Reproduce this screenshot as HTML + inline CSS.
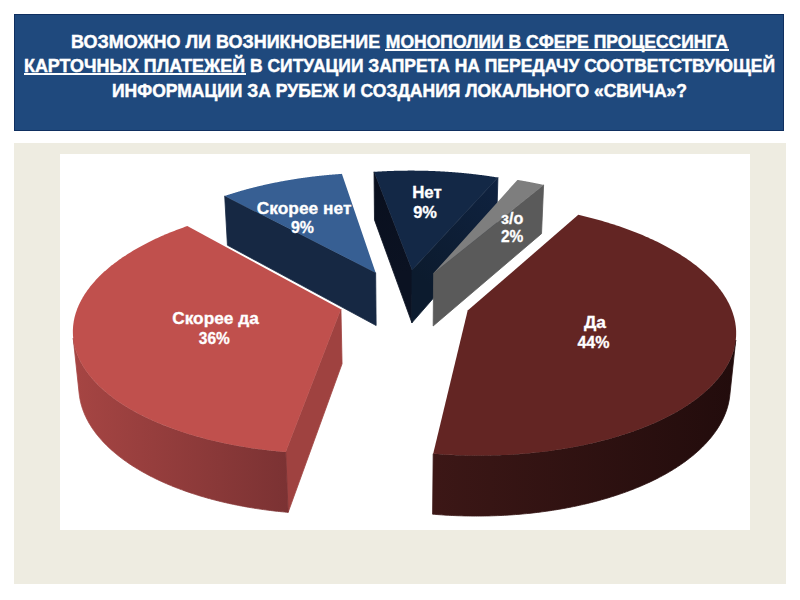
<!DOCTYPE html>
<html><head><meta charset="utf-8"><style>
html,body{margin:0;padding:0;background:#fff;}
body{width:800px;height:600px;position:relative;overflow:hidden;font-family:"Liberation Sans",sans-serif;}
.hdr{position:absolute;left:14px;top:13.5px;width:770px;height:117px;background:#1f497d;box-shadow:inset 0 0 0 1px #0f2f60;}
.t{position:absolute;left:0;width:800px;text-align:center;color:#fff;font-weight:bold;font-size:17.6px;line-height:20px;white-space:nowrap;-webkit-text-stroke:0.45px #fff;}
.t u{text-decoration:none;}
.ul{position:absolute;height:2px;background:#fff;}
.frame{position:absolute;left:14px;top:143px;width:772px;height:441px;background:#eeece1;}
.plot{position:absolute;left:60px;top:154px;width:690px;height:376px;background:#fff;}
svg{position:absolute;left:0;top:0;}
svg text.h{font-size:17.6px;text-anchor:start;stroke:#fff;stroke-width:0.45px;}
svg text{font-family:"Liberation Sans",sans-serif;font-weight:bold;font-size:16.5px;fill:#fff;text-anchor:start;stroke:#fff;stroke-width:0.3px;}
</style></head><body>
<div class="hdr"></div>
<div class="ul" style="left:384.5px;top:49.3px;width:344px"></div>
<div class="ul" style="left:24px;top:73.4px;width:221.5px"></div>
<div class="frame"></div>
<div class="plot"></div>
<svg width="800" height="600" viewBox="0 0 800 600">
<linearGradient id="r3a" gradientUnits="userSpaceOnUse" x1="374.0" y1="171.8" x2="412.0" y2="270.1"><stop offset="0" stop-color="#090f1e"/><stop offset="1" stop-color="#0b1222"/></linearGradient>
<polygon points="412.03,270.08 374.04,171.84 374.49,219.89 411.91,322.82" fill="url(#r3a)" stroke="url(#r3a)" stroke-width="0.8" stroke-linejoin="round"/>
<linearGradient id="r3b" gradientUnits="userSpaceOnUse" x1="497.9" y1="177.5" x2="412.0" y2="270.1"><stop offset="0" stop-color="#0f2240"/><stop offset="1" stop-color="#0c1b2e"/></linearGradient>
<polygon points="412.03,270.08 497.93,177.51 496.54,225.84 411.91,322.82" fill="url(#r3b)" stroke="url(#r3b)" stroke-width="0.8" stroke-linejoin="round"/>
<polygon points="412.03,270.08 374.04,171.84 374.66,171.80 375.29,171.76 375.91,171.72 376.54,171.68 377.16,171.64 377.79,171.61 378.41,171.57 379.04,171.53 379.67,171.50 380.29,171.46 380.92,171.43 381.54,171.39 382.17,171.36 382.80,171.33 383.42,171.30 384.05,171.27 384.68,171.24 385.31,171.21 385.93,171.18 386.56,171.15 387.19,171.12 387.82,171.10 388.44,171.07 389.07,171.05 389.70,171.02 390.33,171.00 390.96,170.98 391.59,170.95 392.21,170.93 392.84,170.91 393.47,170.89 394.10,170.87 394.73,170.85 395.36,170.83 395.99,170.82 396.62,170.80 397.25,170.78 397.88,170.77 398.51,170.75 399.14,170.74 399.77,170.73 400.40,170.72 401.03,170.70 401.66,170.69 402.29,170.68 402.92,170.67 403.55,170.66 404.18,170.66 404.81,170.65 405.44,170.64 406.07,170.64 406.70,170.63 407.33,170.63 407.96,170.62 408.59,170.62 409.22,170.62 409.85,170.61 410.48,170.61 411.11,170.61 411.74,170.61 412.37,170.61 413.00,170.62 413.63,170.62 414.26,170.62 414.89,170.63 415.52,170.63 416.15,170.64 416.78,170.64 417.41,170.65 418.04,170.66 418.67,170.66 419.30,170.67 419.93,170.68 420.56,170.69 421.19,170.70 421.82,170.71 422.45,170.73 423.08,170.74 423.71,170.75 424.34,170.77 424.97,170.78 425.60,170.80 426.23,170.82 426.86,170.83 427.49,170.85 428.12,170.87 428.75,170.89 429.38,170.91 430.01,170.93 430.64,170.95 431.27,170.97 431.89,171.00 432.52,171.02 433.15,171.04 433.78,171.07 434.41,171.10 435.04,171.12 435.67,171.15 436.29,171.18 436.92,171.21 437.55,171.24 438.18,171.27 438.80,171.30 439.43,171.33 440.06,171.36 440.69,171.39 441.31,171.43 441.94,171.46 442.57,171.49 443.19,171.53 443.82,171.57 444.45,171.60 445.07,171.64 445.70,171.68 446.32,171.72 446.95,171.76 447.57,171.80 448.20,171.84 448.82,171.88 449.45,171.93 450.07,171.97 450.70,172.01 451.32,172.06 451.95,172.10 452.57,172.15 453.19,172.20 453.82,172.24 454.44,172.29 455.06,172.34 455.69,172.39 456.31,172.44 456.93,172.49 457.55,172.54 458.17,172.60 458.80,172.65 459.42,172.70 460.04,172.76 460.66,172.81 461.28,172.87 461.90,172.93 462.52,172.98 463.14,173.04 463.76,173.10 464.38,173.16 465.00,173.22 465.62,173.28 466.23,173.34 466.85,173.41 467.47,173.47 468.09,173.53 468.71,173.60 469.32,173.66 469.94,173.73 470.56,173.80 471.17,173.86 471.79,173.93 472.40,174.00 473.02,174.07 473.63,174.14 474.25,174.21 474.86,174.28 475.48,174.35 476.09,174.43 476.70,174.50 477.31,174.57 477.93,174.65 478.54,174.72 479.15,174.80 479.76,174.88 480.37,174.96 480.98,175.03 481.59,175.11 482.20,175.19 482.81,175.27 483.42,175.35 484.03,175.44 484.64,175.52 485.25,175.60 485.86,175.69 486.46,175.77 487.07,175.86 487.68,175.94 488.28,176.03 488.89,176.12 489.49,176.21 490.10,176.29 490.70,176.38 491.31,176.47 491.91,176.57 492.52,176.66 493.12,176.75 493.72,176.84 494.32,176.94 494.92,177.03 495.53,177.13 496.13,177.22 496.73,177.32 497.33,177.41 497.93,177.51" fill="#132846"/>
<polygon points="375.65,272.69 224.69,195.98 227.43,245.22 376.14,325.54" fill="#162843" stroke="#162843" stroke-width="0.8" stroke-linejoin="round"/>
<polygon points="375.65,272.69 224.69,195.98 225.22,195.80 225.75,195.63 226.27,195.45 226.80,195.27 227.34,195.10 227.87,194.92 228.40,194.75 228.93,194.58 229.47,194.40 230.00,194.23 230.54,194.06 231.07,193.89 231.61,193.72 232.15,193.55 232.69,193.38 233.23,193.21 233.77,193.04 234.31,192.88 234.85,192.71 235.40,192.55 235.94,192.38 236.48,192.22 237.03,192.05 237.58,191.89 238.12,191.73 238.67,191.57 239.22,191.41 239.77,191.24 240.32,191.09 240.87,190.93 241.42,190.77 241.97,190.61 242.52,190.45 243.08,190.30 243.63,190.14 244.19,189.99 244.74,189.83 245.30,189.68 245.86,189.53 246.42,189.37 246.97,189.22 247.53,189.07 248.09,188.92 248.65,188.77 249.22,188.62 249.78,188.47 250.34,188.33 250.90,188.18 251.47,188.03 252.03,187.89 252.60,187.74 253.17,187.60 253.73,187.45 254.30,187.31 254.87,187.17 255.44,187.03 256.01,186.89 256.58,186.75 257.15,186.61 257.72,186.47 258.29,186.33 258.87,186.19 259.44,186.05 260.01,185.92 260.59,185.78 261.16,185.65 261.74,185.51 262.32,185.38 262.89,185.25 263.47,185.12 264.05,184.98 264.63,184.85 265.21,184.72 265.79,184.59 266.37,184.46 266.95,184.34 267.53,184.21 268.12,184.08 268.70,183.96 269.28,183.83 269.87,183.71 270.45,183.58 271.04,183.46 271.62,183.34 272.21,183.21 272.80,183.09 273.38,182.97 273.97,182.85 274.56,182.73 275.15,182.62 275.74,182.50 276.33,182.38 276.92,182.26 277.51,182.15 278.11,182.03 278.70,181.92 279.29,181.81 279.88,181.69 280.48,181.58 281.07,181.47 281.67,181.36 282.26,181.25 282.86,181.14 283.46,181.03 284.05,180.92 284.65,180.81 285.25,180.71 285.85,180.60 286.45,180.50 287.05,180.39 287.65,180.29 288.25,180.18 288.85,180.08 289.45,179.98 290.05,179.88 290.65,179.78 291.25,179.68 291.86,179.58 292.46,179.48 293.06,179.38 293.67,179.28 294.27,179.19 294.88,179.09 295.48,179.00 296.09,178.90 296.70,178.81 297.30,178.72 297.91,178.62 298.52,178.53 299.13,178.44 299.74,178.35 300.34,178.26 300.95,178.17 301.56,178.09 302.17,178.00 302.78,177.91 303.39,177.83 304.01,177.74 304.62,177.66 305.23,177.57 305.84,177.49 306.45,177.41 307.07,177.33 307.68,177.24 308.29,177.16 308.91,177.08 309.52,177.01 310.14,176.93 310.75,176.85 311.37,176.77 311.98,176.70 312.60,176.62 313.22,176.55 313.83,176.47 314.45,176.40 315.07,176.33 315.69,176.26 316.30,176.18 316.92,176.11 317.54,176.04 318.16,175.97 318.78,175.91 319.40,175.84 320.02,175.77 320.64,175.71 321.26,175.64 321.88,175.57 322.50,175.51 323.12,175.45 323.74,175.38 324.36,175.32 324.99,175.26 325.61,175.20 326.23,175.14 326.85,175.08 327.48,175.02 328.10,174.96 328.72,174.91 329.35,174.85 329.97,174.80 330.60,174.74 331.22,174.69 331.84,174.63 332.47,174.58 333.09,174.53 333.72,174.48 334.34,174.43 334.97,174.38 335.60,174.33 336.22,174.28 336.85,174.23 337.48,174.18 338.10,174.14 338.73,174.09 339.36,174.04 339.98,174.00 340.61,173.96 341.24,173.91 341.87,173.87" fill="#375f93"/>
<polygon points="433.65,273.09 543.62,184.94 541.53,233.63 433.16,325.97" fill="#5a5a5a" stroke="#5a5a5a" stroke-width="0.8" stroke-linejoin="round"/>
<polygon points="433.65,273.09 517.41,179.89 517.54,179.91 517.67,179.94 517.81,179.96 517.94,179.98 518.08,180.00 518.21,180.02 518.34,180.05 518.48,180.07 518.61,180.09 518.75,180.11 518.88,180.13 519.01,180.16 519.15,180.18 519.28,180.20 519.42,180.22 519.55,180.25 519.68,180.27 519.82,180.29 519.95,180.31 520.08,180.34 520.22,180.36 520.35,180.38 520.49,180.41 520.62,180.43 520.75,180.45 520.89,180.47 521.02,180.50 521.15,180.52 521.29,180.54 521.42,180.57 521.55,180.59 521.69,180.61 521.82,180.63 521.95,180.66 522.09,180.68 522.22,180.70 522.35,180.73 522.49,180.75 522.62,180.77 522.75,180.80 522.89,180.82 523.02,180.84 523.15,180.87 523.29,180.89 523.42,180.91 523.55,180.94 523.69,180.96 523.82,180.98 523.95,181.01 524.08,181.03 524.22,181.06 524.35,181.08 524.48,181.10 524.62,181.13 524.75,181.15 524.88,181.17 525.01,181.20 525.15,181.22 525.28,181.25 525.41,181.27 525.55,181.29 525.68,181.32 525.81,181.34 525.94,181.37 526.08,181.39 526.21,181.42 526.34,181.44 526.47,181.46 526.61,181.49 526.74,181.51 526.87,181.54 527.00,181.56 527.14,181.59 527.27,181.61 527.40,181.63 527.53,181.66 527.67,181.68 527.80,181.71 527.93,181.73 528.06,181.76 528.20,181.78 528.33,181.81 528.46,181.83 528.59,181.86 528.72,181.88 528.86,181.91 528.99,181.93 529.12,181.96 529.25,181.98 529.39,182.01 529.52,182.03 529.65,182.06 529.78,182.08 529.91,182.11 530.05,182.13 530.18,182.16 530.31,182.18 530.44,182.21 530.57,182.23 530.70,182.26 530.84,182.28 530.97,182.31 531.10,182.33 531.23,182.36 531.36,182.39 531.49,182.41 531.63,182.44 531.76,182.46 531.89,182.49 532.02,182.51 532.15,182.54 532.28,182.57 532.42,182.59 532.55,182.62 532.68,182.64 532.81,182.67 532.94,182.70 533.07,182.72 533.20,182.75 533.33,182.77 533.47,182.80 533.60,182.83 533.73,182.85 533.86,182.88 533.99,182.90 534.12,182.93 534.25,182.96 534.38,182.98 534.51,183.01 534.65,183.04 534.78,183.06 534.91,183.09 535.04,183.11 535.17,183.14 535.30,183.17 535.43,183.19 535.56,183.22 535.69,183.25 535.82,183.27 535.95,183.30 536.09,183.33 536.22,183.35 536.35,183.38 536.48,183.41 536.61,183.44 536.74,183.46 536.87,183.49 537.00,183.52 537.13,183.54 537.26,183.57 537.39,183.60 537.52,183.62 537.65,183.65 537.78,183.68 537.91,183.71 538.04,183.73 538.17,183.76 538.30,183.79 538.43,183.82 538.56,183.84 538.69,183.87 538.82,183.90 538.95,183.93 539.08,183.95 539.21,183.98 539.34,184.01 539.47,184.04 539.60,184.06 539.73,184.09 539.86,184.12 539.99,184.15 540.12,184.17 540.25,184.20 540.38,184.23 540.51,184.26 540.64,184.29 540.77,184.31 540.90,184.34 541.03,184.37 541.16,184.40 541.29,184.43 541.42,184.45 541.55,184.48 541.68,184.51 541.81,184.54 541.94,184.57 542.07,184.60 542.20,184.62 542.33,184.65 542.46,184.68 542.59,184.71 542.71,184.74 542.84,184.77 542.97,184.79 543.10,184.82 543.23,184.85 543.36,184.88 543.49,184.91 543.62,184.94" fill="#7e7e7e"/>
<polygon points="340.95,309.33 285.73,452.00 288.14,512.35 342.06,363.82" fill="#9f4240" stroke="#9f4240" stroke-width="0.8" stroke-linejoin="round"/>
<linearGradient id="g1" gradientUnits="userSpaceOnUse" x1="73.2" y1="0" x2="288.1" y2="0"><stop offset="0" stop-color="#a64543"/><stop offset="1" stop-color="#7b3233"/></linearGradient>
<polygon points="285.73,452.00 283.92,451.85 282.11,451.69 280.31,451.53 278.51,451.36 276.71,451.19 274.92,451.01 273.13,450.82 271.34,450.63 269.56,450.43 267.78,450.23 266.01,450.02 264.24,449.81 262.47,449.58 260.70,449.36 258.95,449.13 257.19,448.89 255.44,448.64 253.69,448.39 251.95,448.14 250.22,447.88 248.48,447.61 246.76,447.34 245.03,447.06 243.32,446.78 241.60,446.49 239.90,446.19 238.19,445.89 236.50,445.59 234.81,445.27 233.12,444.96 231.44,444.63 229.77,444.31 228.10,443.97 226.43,443.63 224.78,443.29 223.13,442.94 221.48,442.59 219.84,442.23 218.21,441.86 216.58,441.49 214.96,441.11 213.35,440.73 211.74,440.35 210.14,439.96 208.55,439.56 206.96,439.16 205.38,438.75 203.81,438.34 202.24,437.92 200.68,437.50 199.13,437.07 197.59,436.64 196.05,436.21 194.52,435.76 193.00,435.32 191.48,434.87 189.98,434.41 188.48,433.95 186.98,433.49 185.50,433.02 184.02,432.54 182.55,432.06 181.09,431.58 179.64,431.09 178.20,430.60 176.76,430.10 175.33,429.60 173.91,429.09 172.50,428.58 171.10,428.06 169.70,427.55 168.31,427.02 166.94,426.49 165.57,425.96 164.21,425.42 162.86,424.88 161.51,424.34 160.18,423.79 158.85,423.24 157.54,422.68 156.23,422.12 154.93,421.55 153.64,420.98 152.36,420.41 151.09,419.83 149.83,419.25 148.58,418.67 147.34,418.08 146.10,417.49 144.88,416.89 143.66,416.30 142.46,415.69 141.26,415.09 140.08,414.48 138.90,413.86 137.73,413.25 136.58,412.63 135.43,412.00 134.29,411.38 133.16,410.75 132.04,410.11 130.94,409.47 129.84,408.83 128.75,408.19 127.67,407.55 126.60,406.90 125.55,406.24 124.50,405.59 123.46,404.93 122.43,404.27 121.42,403.60 120.41,402.94 119.41,402.27 118.42,401.59 117.45,400.92 116.48,400.24 115.53,399.56 114.58,398.88 113.64,398.19 112.72,397.50 111.81,396.81 110.90,396.12 110.01,395.42 109.13,394.72 108.25,394.02 107.39,393.32 106.54,392.61 105.70,391.90 104.87,391.19 104.05,390.48 103.24,389.77 102.44,389.05 101.65,388.33 100.87,387.61 100.11,386.89 99.35,386.17 98.61,385.44 97.87,384.71 97.15,383.98 96.43,383.25 95.73,382.52 95.04,381.78 94.36,381.04 93.69,380.30 93.03,379.56 92.38,378.82 91.74,378.08 91.11,377.33 90.50,376.59 89.89,375.84 89.30,375.09 88.71,374.34 88.14,373.59 87.57,372.84 87.02,372.08 86.48,371.32 85.95,370.57 85.43,369.81 84.92,369.05 84.42,368.29 83.93,367.53 83.45,366.77 82.99,366.00 82.53,365.24 82.09,364.48 81.65,363.71 81.23,362.94 80.81,362.18 80.41,361.41 80.02,360.64 79.64,359.87 79.27,359.10 78.91,358.33 78.56,357.56 78.22,356.78 77.89,356.01 77.57,355.24 77.27,354.47 76.97,353.69 76.69,352.92 76.41,352.14 76.14,351.37 75.89,350.59 75.65,349.82 75.41,349.04 75.19,348.27 74.98,347.49 74.77,346.71 74.58,345.94 74.40,345.16 74.23,344.39 74.07,343.61 73.92,342.83 73.78,342.06 73.65,341.28 73.53,340.51 73.42,339.73 73.32,338.95 73.23,338.18 79.21,393.93 79.30,394.74 79.40,395.54 79.51,396.35 79.64,397.16 79.77,397.97 79.91,398.78 80.07,399.59 80.23,400.40 80.40,401.21 80.59,402.02 80.78,402.83 80.98,403.64 81.20,404.44 81.42,405.25 81.65,406.06 81.90,406.87 82.15,407.68 82.42,408.48 82.69,409.29 82.98,410.10 83.28,410.91 83.58,411.71 83.90,412.52 84.23,413.32 84.56,414.13 84.91,414.93 85.27,415.73 85.64,416.54 86.02,417.34 86.41,418.14 86.81,418.94 87.22,419.74 87.64,420.54 88.07,421.33 88.51,422.13 88.96,422.93 89.43,423.72 89.90,424.52 90.38,425.31 90.88,426.10 91.38,426.89 91.90,427.68 92.42,428.47 92.96,429.26 93.51,430.04 94.06,430.83 94.63,431.61 95.21,432.39 95.80,433.17 96.40,433.95 97.01,434.73 97.63,435.50 98.26,436.28 98.90,437.05 99.55,437.82 100.22,438.59 100.89,439.36 101.57,440.12 102.27,440.88 102.97,441.65 103.68,442.41 104.41,443.16 105.15,443.92 105.89,444.67 106.65,445.43 107.42,446.18 108.19,446.92 108.98,447.67 109.78,448.41 110.59,449.15 111.40,449.89 112.23,450.63 113.07,451.36 113.92,452.10 114.78,452.82 115.65,453.55 116.53,454.28 117.42,455.00 118.32,455.72 119.24,456.43 120.16,457.15 121.09,457.86 122.03,458.57 122.98,459.27 123.94,459.97 124.91,460.67 125.90,461.37 126.89,462.06 127.89,462.75 128.90,463.44 129.92,464.13 130.95,464.81 131.99,465.49 133.04,466.16 134.11,466.83 135.18,467.50 136.26,468.17 137.35,468.83 138.45,469.49 139.55,470.15 140.67,470.80 141.80,471.45 142.94,472.09 144.09,472.73 145.24,473.37 146.41,474.00 147.58,474.63 148.77,475.26 149.96,475.88 151.17,476.50 152.38,477.12 153.60,477.73 154.83,478.34 156.07,478.94 157.32,479.54 158.58,480.13 159.84,480.73 161.12,481.31 162.40,481.90 163.70,482.48 165.00,483.05 166.31,483.62 167.63,484.19 168.96,484.75 170.29,485.31 171.64,485.86 172.99,486.41 174.35,486.95 175.72,487.49 177.10,488.03 178.48,488.56 179.88,489.08 181.28,489.61 182.69,490.12 184.11,490.64 185.53,491.14 186.97,491.65 188.41,492.14 189.86,492.64 191.32,493.13 192.78,493.61 194.25,494.09 195.73,494.56 197.22,495.03 198.71,495.49 200.21,495.95 201.72,496.40 203.24,496.85 204.76,497.30 206.29,497.73 207.82,498.17 209.37,498.59 210.92,499.02 212.47,499.43 214.04,499.85 215.61,500.25 217.18,500.65 218.77,501.05 220.35,501.44 221.95,501.82 223.55,502.20 225.16,502.58 226.77,502.95 228.39,503.31 230.02,503.67 231.65,504.02 233.28,504.36 234.92,504.70 236.57,505.04 238.23,505.37 239.88,505.69 241.55,506.01 243.22,506.32 244.89,506.63 246.57,506.93 248.25,507.22 249.94,507.51 251.63,507.79 253.33,508.07 255.03,508.34 256.74,508.61 258.45,508.87 260.17,509.12 261.89,509.37 263.61,509.61 265.34,509.84 267.07,510.07 268.81,510.30 270.55,510.51 272.29,510.72 274.04,510.93 275.79,511.13 277.54,511.32 279.30,511.51 281.06,511.69 282.83,511.86 284.59,512.03 286.36,512.19 288.14,512.35" fill="url(#g1)" stroke="url(#g1)" stroke-width="0.8" stroke-linejoin="round"/>
<polygon points="340.95,309.33 285.73,452.00 282.31,451.71 278.91,451.40 275.51,451.07 272.13,450.72 268.76,450.34 265.41,449.95 262.07,449.53 258.74,449.10 255.43,448.64 252.13,448.16 248.85,447.67 245.59,447.15 242.35,446.61 239.12,446.06 235.92,445.48 232.73,444.88 229.56,444.27 226.41,443.63 223.29,442.98 220.18,442.30 217.10,441.61 214.04,440.90 211.00,440.17 207.99,439.42 205.00,438.65 202.04,437.87 199.10,437.07 196.19,436.25 193.30,435.41 190.45,434.55 187.61,433.68 184.81,432.79 182.03,431.89 179.28,430.97 176.56,430.03 173.88,429.08 171.22,428.11 168.59,427.12 165.99,426.12 163.42,425.11 160.88,424.08 158.38,423.03 155.90,421.98 153.46,420.90 151.05,419.82 148.68,418.72 146.33,417.60 144.03,416.48 141.75,415.34 139.51,414.18 137.30,413.02 135.13,411.84 133.00,410.65 130.90,409.45 128.83,408.24 126.80,407.01 124.80,405.78 122.85,404.54 120.92,403.28 119.04,402.01 117.19,400.74 115.38,399.45 113.60,398.16 111.87,396.86 110.17,395.54 108.50,394.22 106.88,392.89 105.29,391.56 103.74,390.21 102.23,388.86 100.75,387.50 99.31,386.13 97.92,384.76 96.56,383.37 95.23,381.99 93.95,380.59 92.70,379.19 91.50,377.79 90.33,376.38 89.20,374.97 88.10,373.55 87.05,372.12 86.03,370.69 85.06,369.26 84.12,367.82 83.22,366.38 82.36,364.94 81.53,363.49 80.74,362.04 80.00,360.59 79.29,359.14 78.61,357.68 77.98,356.22 77.38,354.76 76.82,353.30 76.30,351.83 75.82,350.37 75.37,348.90 74.96,347.44 74.59,345.97 74.25,344.50 73.96,343.04 73.69,341.57 73.47,340.10 73.28,338.64 73.13,337.17 73.01,335.71 72.93,334.25 72.89,332.79 72.88,331.33 72.91,329.87 72.97,328.42 73.07,326.96 73.20,325.51 73.37,324.07 73.57,322.62 73.80,321.18 74.07,319.74 74.38,318.30 74.71,316.87 75.09,315.44 75.49,314.02 75.93,312.60 76.40,311.18 76.90,309.77 77.44,308.36 78.01,306.96 78.61,305.56 79.24,304.17 79.90,302.78 80.60,301.40 81.32,300.02 82.08,298.65 82.86,297.28 83.68,295.92 84.53,294.57 85.41,293.22 86.31,291.88 87.25,290.54 88.21,289.22 89.21,287.89 90.23,286.58 91.28,285.27 92.36,283.97 93.47,282.67 94.60,281.39 95.76,280.11 96.95,278.84 98.17,277.57 99.41,276.32 100.68,275.07 101.97,273.83 103.29,272.59 104.64,271.37 106.01,270.15 107.41,268.94 108.83,267.75 110.27,266.55 111.74,265.37 113.24,264.20 114.75,263.03 116.29,261.88 117.86,260.73 119.44,259.59 121.05,258.47 122.68,257.35 124.33,256.24 126.01,255.14 127.70,254.05 129.42,252.96 131.16,251.89 132.92,250.83 134.70,249.78 136.50,248.74 138.32,247.70 140.16,246.68 142.02,245.67 143.90,244.67 145.79,243.68 147.71,242.70 149.64,241.72 151.59,240.76 153.56,239.81 155.55,238.87 157.56,237.94 159.58,237.02 161.62,236.12 163.67,235.22 165.74,234.33 167.83,233.46 169.94,232.59 172.06,231.74 174.19,230.89 176.34,230.06 178.50,229.24 180.68,228.43 182.88,227.63 185.08,226.84 187.31,226.07" fill="#c0504d"/>
<linearGradient id="g0" gradientUnits="userSpaceOnUse" x1="432.6" y1="0" x2="735.7" y2="0"><stop offset="0" stop-color="#3c1716"/><stop offset="1" stop-color="#220c0c"/></linearGradient>
<polygon points="735.75,340.05 735.63,341.01 735.49,341.98 735.34,342.94 735.17,343.91 734.99,344.88 734.79,345.84 734.57,346.81 734.34,347.78 734.10,348.74 733.83,349.71 733.55,350.67 733.26,351.64 732.95,352.61 732.62,353.57 732.27,354.54 731.91,355.50 731.54,356.46 731.14,357.43 730.73,358.39 730.31,359.35 729.87,360.31 729.41,361.27 728.93,362.23 728.44,363.18 727.93,364.14 727.41,365.10 726.87,366.05 726.31,367.00 725.74,367.95 725.15,368.90 724.54,369.85 723.92,370.80 723.28,371.74 722.62,372.68 721.95,373.63 721.26,374.56 720.55,375.50 719.83,376.44 719.09,377.37 718.34,378.30 717.56,379.23 716.78,380.16 715.97,381.08 715.15,382.00 714.31,382.92 713.45,383.84 712.58,384.75 711.69,385.67 710.79,386.57 709.87,387.48 708.93,388.38 707.98,389.28 707.01,390.18 706.02,391.07 705.02,391.96 704.00,392.85 702.96,393.73 701.91,394.61 700.84,395.49 699.75,396.36 698.65,397.23 697.54,398.10 696.40,398.96 695.25,399.82 694.09,400.67 692.91,401.52 691.71,402.37 690.50,403.21 689.27,404.05 688.02,404.88 686.76,405.71 685.48,406.53 684.19,407.35 682.88,408.17 681.56,408.98 680.22,409.78 678.87,410.58 677.50,411.38 676.11,412.17 674.71,412.96 673.30,413.74 671.87,414.51 670.42,415.28 668.96,416.05 667.48,416.81 665.99,417.56 664.49,418.31 662.97,419.05 661.44,419.79 659.89,420.52 658.32,421.25 656.75,421.97 655.16,422.68 653.55,423.39 651.93,424.09 650.30,424.79 648.65,425.47 646.99,426.16 645.31,426.83 643.63,427.50 641.93,428.17 640.21,428.83 638.48,429.48 636.74,430.12 634.99,430.76 633.22,431.39 631.44,432.01 629.65,432.63 627.84,433.24 626.03,433.84 624.20,434.43 622.35,435.02 620.50,435.60 618.64,436.18 616.76,436.74 614.87,437.30 612.97,437.85 611.06,438.40 609.13,438.93 607.20,439.46 605.25,439.98 603.30,440.50 601.33,441.00 599.35,441.50 597.37,441.99 595.37,442.47 593.36,442.94 591.34,443.41 589.31,443.87 587.28,444.32 585.23,444.76 583.17,445.19 581.11,445.61 579.03,446.03 576.95,446.44 574.86,446.84 572.76,447.23 570.65,447.61 568.53,447.98 566.41,448.35 564.27,448.71 562.13,449.05 559.98,449.39 557.83,449.72 555.66,450.05 553.49,450.36 551.32,450.66 549.13,450.96 546.94,451.24 544.75,451.52 542.54,451.79 540.34,452.05 538.12,452.30 535.90,452.54 533.67,452.77 531.44,452.99 529.21,453.21 526.97,453.41 524.72,453.61 522.47,453.79 520.22,453.97 517.96,454.14 515.69,454.30 513.43,454.45 511.16,454.59 508.88,454.72 506.61,454.84 504.33,454.95 502.04,455.05 499.76,455.15 497.47,455.23 495.18,455.30 492.89,455.37 490.59,455.42 488.30,455.47 486.00,455.51 483.70,455.53 481.40,455.55 479.10,455.56 476.80,455.56 474.50,455.55 472.19,455.53 469.89,455.50 467.59,455.46 465.28,455.41 462.98,455.36 460.68,455.29 458.38,455.21 456.08,455.13 453.78,455.03 451.48,454.93 449.19,454.81 446.89,454.69 444.60,454.56 442.31,454.42 440.02,454.26 437.74,454.10 435.46,453.93 433.18,453.76 432.59,514.17 434.83,514.36 437.06,514.54 439.30,514.70 441.54,514.86 443.79,515.01 446.03,515.14 448.28,515.27 450.53,515.39 452.78,515.50 455.03,515.60 457.28,515.69 459.54,515.76 461.79,515.83 464.05,515.89 466.30,515.94 468.56,515.98 470.82,516.01 473.07,516.04 475.33,516.05 477.58,516.05 479.84,516.04 482.09,516.02 484.34,515.99 486.59,515.95 488.84,515.91 491.09,515.85 493.33,515.78 495.58,515.70 497.82,515.62 500.06,515.52 502.30,515.41 504.53,515.30 506.76,515.17 508.99,515.04 511.21,514.89 513.43,514.74 515.65,514.57 517.86,514.40 520.07,514.21 522.28,514.02 524.48,513.82 526.68,513.61 528.87,513.38 531.05,513.15 533.23,512.91 535.41,512.66 537.58,512.40 539.75,512.13 541.90,511.85 544.06,511.57 546.20,511.27 548.34,510.96 550.48,510.65 552.61,510.32 554.73,509.99 556.84,509.65 558.94,509.29 561.04,508.93 563.13,508.56 565.22,508.18 567.29,507.79 569.36,507.40 571.42,506.99 573.47,506.58 575.52,506.15 577.55,505.72 579.57,505.28 581.59,504.83 583.60,504.37 585.60,503.91 587.58,503.43 589.56,502.95 591.53,502.46 593.49,501.96 595.44,501.45 597.38,500.93 599.31,500.41 601.23,499.87 603.14,499.33 605.04,498.78 606.92,498.23 608.80,497.66 610.66,497.09 612.52,496.51 614.36,495.92 616.19,495.32 618.01,494.72 619.82,494.11 621.61,493.49 623.40,492.87 625.17,492.23 626.93,491.59 628.67,490.95 630.41,490.29 632.13,489.63 633.84,488.96 635.54,488.28 637.22,487.60 638.89,486.91 640.55,486.21 642.19,485.51 643.83,484.80 645.44,484.09 647.05,483.36 648.64,482.63 650.22,481.90 651.78,481.16 653.33,480.41 654.87,479.65 656.39,478.89 657.90,478.13 659.39,477.35 660.87,476.58 662.33,475.79 663.78,475.00 665.22,474.21 666.64,473.41 668.05,472.60 669.44,471.79 670.82,470.97 672.18,470.15 673.53,469.32 674.86,468.49 676.18,467.65 677.48,466.81 678.76,465.96 680.04,465.11 681.29,464.25 682.53,463.39 683.76,462.52 684.97,461.65 686.16,460.78 687.34,459.90 688.51,459.01 689.65,458.12 690.79,457.23 691.90,456.34 693.00,455.44 694.09,454.53 695.16,453.62 696.21,452.71 697.25,451.79 698.27,450.88 699.28,449.95 700.27,449.03 701.24,448.10 702.20,447.16 703.14,446.23 704.06,445.29 704.97,444.34 705.86,443.40 706.74,442.45 707.60,441.50 708.45,440.54 709.28,439.59 710.09,438.63 710.88,437.67 711.66,436.70 712.43,435.73 713.17,434.76 713.91,433.79 714.62,432.82 715.32,431.84 716.00,430.86 716.67,429.88 717.32,428.90 717.95,427.92 718.57,426.93 719.17,425.95 719.76,424.96 720.32,423.97 720.88,422.97 721.41,421.98 721.93,420.99 722.44,419.99 722.93,418.99 723.40,417.99 723.85,416.99 724.29,415.99 724.72,414.99 725.13,413.99 725.52,412.99 725.89,411.98 726.25,410.98 726.60,409.97 726.93,408.97 727.24,407.96 727.53,406.95 727.82,405.95 728.08,404.94 728.33,403.93 728.56,402.92 728.78,401.92 728.98,400.91 729.17,399.90 729.34,398.89 729.49,397.89 729.63,396.88 729.76,395.87" fill="url(#g0)" stroke="url(#g0)" stroke-width="0.8" stroke-linejoin="round"/>
<polygon points="467.68,310.62 578.32,214.81 581.29,215.51 584.25,216.22 587.20,216.94 590.14,217.69 593.05,218.45 595.95,219.23 598.84,220.03 601.71,220.84 604.56,221.68 607.39,222.53 610.21,223.39 613.01,224.28 615.78,225.18 618.54,226.09 621.28,227.03 624.00,227.98 626.70,228.95 629.38,229.93 632.03,230.94 634.66,231.95 637.27,232.99 639.86,234.04 642.43,235.11 644.97,236.19 647.48,237.29 649.97,238.41 652.44,239.54 654.88,240.68 657.29,241.85 659.68,243.03 662.04,244.22 664.37,245.43 666.68,246.66 668.95,247.90 671.20,249.15 673.41,250.42 675.60,251.71 677.76,253.01 679.88,254.32 681.98,255.65 684.04,256.99 686.07,258.35 688.06,259.72 690.03,261.11 691.96,262.51 693.85,263.92 695.71,265.34 697.54,266.78 699.32,268.24 701.08,269.70 702.79,271.18 704.47,272.67 706.11,274.17 707.71,275.69 709.28,277.22 710.80,278.75 712.29,280.31 713.73,281.87 715.14,283.44 716.50,285.02 717.82,286.62 719.10,288.22 720.34,289.84 721.53,291.47 722.68,293.10 723.79,294.75 724.85,296.40 725.87,298.07 726.84,299.74 727.77,301.42 728.65,303.11 729.48,304.81 730.27,306.51 731.01,308.23 731.70,309.95 732.34,311.67 732.94,313.41 733.48,315.15 733.98,316.89 734.42,318.65 734.82,320.40 735.17,322.17 735.46,323.93 735.70,325.71 735.89,327.48 736.03,329.26 736.12,331.04 736.15,332.83 736.13,334.62 736.06,336.41 735.93,338.20 735.75,340.00 735.52,341.80 735.23,343.59 734.88,345.39 734.48,347.19 734.03,348.99 733.52,350.79 732.95,352.58 732.33,354.38 731.65,356.17 730.92,357.96 730.13,359.75 729.28,361.53 728.37,363.31 727.41,365.09 726.39,366.87 725.32,368.63 724.18,370.40 722.99,372.15 721.75,373.91 720.44,375.65 719.08,377.39 717.66,379.12 716.18,380.84 714.65,382.55 713.06,384.26 711.41,385.96 709.70,387.64 707.94,389.32 706.12,390.98 704.24,392.64 702.31,394.28 700.32,395.91 698.27,397.53 696.17,399.13 694.01,400.72 691.80,402.30 689.53,403.86 687.21,405.41 684.84,406.94 682.40,408.46 679.92,409.96 677.38,411.45 674.79,412.91 672.15,414.36 669.45,415.79 666.70,417.20 663.91,418.60 661.06,419.97 658.16,421.32 655.21,422.66 652.21,423.97 649.17,425.26 646.08,426.53 642.94,427.78 639.75,429.00 636.52,430.20 633.24,431.38 629.92,432.53 626.56,433.66 623.15,434.77 619.70,435.85 616.21,436.91 612.68,437.93 609.12,438.94 605.51,439.92 601.86,440.87 598.18,441.79 594.47,442.68 590.71,443.55 586.93,444.39 583.11,445.20 579.26,445.99 575.38,446.74 571.47,447.46 567.53,448.16 563.56,448.82 559.57,449.46 555.55,450.06 551.51,450.64 547.44,451.18 543.35,451.69 539.24,452.17 535.11,452.62 530.96,453.04 526.80,453.43 522.62,453.78 518.42,454.10 514.21,454.40 509.99,454.65 505.75,454.88 501.50,455.07 497.25,455.24 492.99,455.37 488.72,455.46 484.44,455.53 480.16,455.56 475.88,455.56 471.60,455.52 467.32,455.46 463.03,455.36 458.75,455.23 454.47,455.06 450.20,454.86 445.93,454.64 441.67,454.37 437.42,454.08 433.18,453.76" fill="#632523"/>
<text x="256.80" y="213.5" textLength="94.60" lengthAdjust="spacingAndGlyphs">Скорее нет</text>
<text x="291.00" y="232.6" textLength="23.00" lengthAdjust="spacingAndGlyphs">9%</text>
<text x="412.20" y="197.7" textLength="29.60" lengthAdjust="spacingAndGlyphs">Нет</text>
<text x="413.20" y="217.5" textLength="23.80" lengthAdjust="spacingAndGlyphs">9%</text>
<text x="501.00" y="223.75" textLength="22.40" lengthAdjust="spacingAndGlyphs">з/о</text>
<text x="501.00" y="242.1" textLength="22.40" lengthAdjust="spacingAndGlyphs">2%</text>
<text x="172.20" y="324.1" textLength="86.60" lengthAdjust="spacingAndGlyphs">Скорее да</text>
<text x="198.80" y="343.7" textLength="31.00" lengthAdjust="spacingAndGlyphs">36%</text>
<text x="584.00" y="327.9" textLength="22.00" lengthAdjust="spacingAndGlyphs">Да</text>
<text x="577.40" y="347.5" textLength="32.10" lengthAdjust="spacingAndGlyphs">44%</text>
<text class="h" x="71.00" y="47.9" textLength="309.20" lengthAdjust="spacingAndGlyphs">ВОЗМОЖНО ЛИ ВОЗНИКНОВЕНИЕ</text>
<text class="h" x="385.80" y="47.9" textLength="342.20" lengthAdjust="spacingAndGlyphs">МОНОПОЛИИ В СФЕРЕ ПРОЦЕССИНГА</text>
<text class="h" x="24.00" y="71.9" textLength="221.00" lengthAdjust="spacingAndGlyphs">КАРТОЧНЫХ ПЛАТЕЖЕЙ</text>
<text class="h" x="250.00" y="71.9" textLength="525.00" lengthAdjust="spacingAndGlyphs">В СИТУАЦИИ ЗАПРЕТА НА ПЕРЕДАЧУ СООТВЕТСТВУЮЩЕЙ</text>
<text class="h" x="112.00" y="96.7" textLength="575.00" lengthAdjust="spacingAndGlyphs">ИНФОРМАЦИИ ЗА РУБЕЖ И СОЗДАНИЯ ЛОКАЛЬНОГО «СВИЧА»?</text>
</svg>
</body></html>
